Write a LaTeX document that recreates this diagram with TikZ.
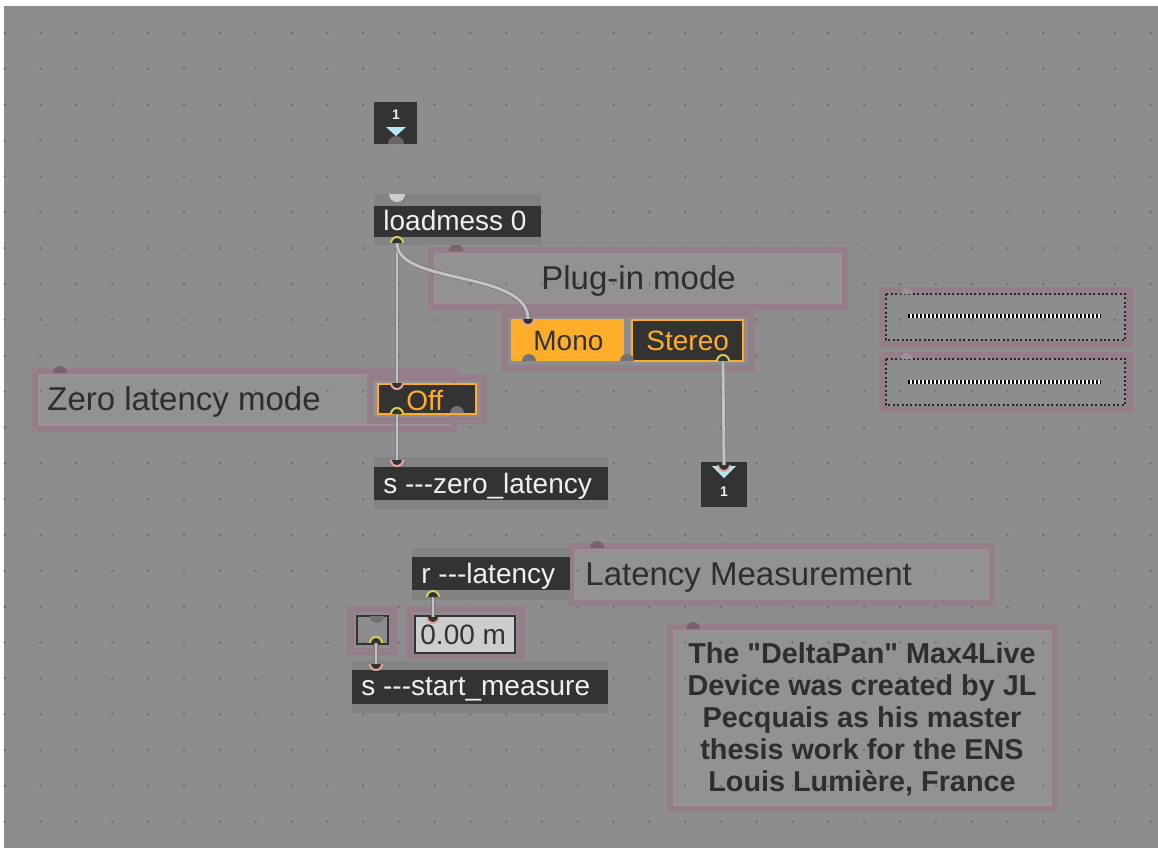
\documentclass[tikz,border=0pt]{standalone}
\usepackage{fontspec}
\setmainfont{Liberation Sans}[Ligatures=TeXOff]
\definecolor{canvas}{HTML}{8D8D8D}
\definecolor{griddot}{HTML}{6E6E6E}
\definecolor{bodydark}{HTML}{333333}
\definecolor{stripgrey}{HTML}{838383}
\definecolor{objtext}{HTML}{F0F0F0}
\definecolor{cmttext}{HTML}{2E2E2E}
\definecolor{cmtframe}{HTML}{937E89}
\definecolor{cmtedge}{HTML}{A08E97}
\definecolor{cmtinlet}{HTML}{76636D}
\definecolor{liveorange}{HTML}{FFAD2A}
\definecolor{cordgrey}{HTML}{C4C4C4}
\definecolor{cordedge}{HTML}{7C7C7C}
\definecolor{inletpink}{HTML}{E8A496}
\definecolor{outletyellow}{HTML}{D0D05A}
\definecolor{iocyan}{HTML}{B4E8EE}
\definecolor{numfill}{HTML}{CDCDCD}
\begin{document}
\begin{tikzpicture}[x=0.5pt,y=-0.5pt,
  cmtband/.style={draw=cmtframe,line width=3pt,fill=white,fill opacity=0.05},
  cmtline/.style={draw=cmtedge,line width=0.6pt},
  uiband/.style={draw=cmtframe,line width=3.5pt},
  objlabel/.style={font=\fontsize{14}{16}\selectfont,text=objtext,inner sep=0pt,anchor=base west},
  cmtlabel/.style={font=\fontsize{16.5}{19}\selectfont,text=cmttext,inner sep=0pt,anchor=base west},
  tablabel/.style={font=\fontsize{14}{16}\selectfont,inner sep=0pt,anchor=base west},
  iolabel/.style={font=\fontsize{7}{8}\selectfont\bfseries,text=objtext,inner sep=0pt},
  patchcord/.style={draw=cordedge,line width=0.4pt,double=cordgrey,double distance=1.4pt},
  inletmark/.style={draw=inletpink,line width=1pt,fill=bodydark},
  outletmark/.style={draw=outletyellow,line width=1pt,fill=bodydark}]
\useasboundingbox (0,0) rectangle (1158,848);
\fill[white] (0,0) rectangle (1158,848);
\fill[canvas] (4,6) rectangle (1158,848);
% grid
\foreach \i in {0,...,32}
  \foreach \j in {0,...,22}
    \fill[griddot] ({5+35.8*\i},{33+35.85*\j}) circle (1.4);
% comments
\draw[cmtband] (431,250) rectangle (845,307);
\draw[cmtline] (435,254) rectangle (841,303);
\draw[cmtband] (35,371) rectangle (454,429);
\draw[cmtline] (39,375) rectangle (450,425);
\draw[cmtband] (571,546) rectangle (992,603);
\draw[cmtline] (575,550) rectangle (988,599);
\draw[cmtband] (670,627) rectangle (1055,809);
\draw[cmtline] (674,631) rectangle (1051,805);
\filldraw[fill=cmtinlet,draw=none] (449,251) arc[start angle=180,end angle=360,radius=7];
\filldraw[fill=cmtinlet,draw=none] (53,373) arc[start angle=180,end angle=360,radius=7];
\filldraw[fill=cmtinlet,draw=none] (590,548) arc[start angle=180,end angle=360,radius=7];
\filldraw[fill=cmtinlet,draw=none] (686,629) arc[start angle=180,end angle=360,radius=7];
% ui frames
\draw[uiband] (504,313) rectangle (751,368);
\draw[uiband] (370,377) rectangle (483,420);
\draw[uiband] (350,609) rectangle (393,651);
\draw[uiband] (409,609) rectangle (521,656);
\draw[uiband] (882,290) rectangle (1129,344);
\draw[uiband] (882,355) rectangle (1129,409);
% right boxes
\draw[black!85,line width=1pt,dash pattern=on 1pt off 1.2pt] (886,294) rectangle (1125,340);
\draw[black!85,line width=1pt,dash pattern=on 1pt off 1.2pt] (886,359) rectangle (1125,405);
\draw[white,line width=2pt] (908,316) -- (1101,316);
\draw[black,line width=2pt,dash pattern=on 1pt off 1pt] (908,316) -- (1101,316);
\draw[white,line width=2pt] (908,382) -- (1101,382);
\draw[black,line width=2pt,dash pattern=on 1pt off 1pt] (908,382) -- (1101,382);
\filldraw[fill=cmtedge,draw=none] (901,294) arc[start angle=180,end angle=360,radius=6];
\filldraw[fill=cmtedge,draw=none] (901,359) arc[start angle=180,end angle=360,radius=6];
% objects
\fill[bodydark] (374,102) rectangle (417,144);
\fill[iocyan] (386,127) -- (406,127) -- (396,136) -- cycle;
\filldraw[fill=black!60,draw=none] (388,144) arc[start angle=180,end angle=360,radius=8];
\fill[stripgrey] (374,194) rectangle (541,245);
\fill[bodydark] (374,206) rectangle (541,237);
\filldraw[fill=numfill,draw=none] (389,194) arc[start angle=180,end angle=0,radius=8];
\fill[liveorange] (511,319) rectangle (624,361);
\filldraw[fill=bodydark,draw=liveorange,line width=1pt] (631.5,319.5) rectangle (742.5,360.5);
\filldraw[fill=black!55,draw=none] (522,361) arc[start angle=180,end angle=360,radius=7];
\filldraw[fill=black!55,draw=none] (620,361) arc[start angle=180,end angle=360,radius=7];
\filldraw[fill=bodydark,draw=liveorange,line width=1pt] (377.5,383.5) rectangle (475.5,413.5);
\filldraw[fill=black!55,draw=none] (450,413) arc[start angle=180,end angle=360,radius=7];
\fill[stripgrey] (374,457) rectangle (608,509);
\fill[bodydark] (374,467) rectangle (608,500);
\fill[bodydark] (701,462) rectangle (747,507);
\fill[iocyan] (712,466) -- (736,466) -- (724,478) -- cycle;
\fill[stripgrey] (412,548) rectangle (570,600);
\fill[bodydark] (412,557) rectangle (570,590);
\draw[bodydark,line width=1pt] (357,616) rectangle (388,644);
\filldraw[fill=black!55,draw=none] (384,616) arc[start angle=0,end angle=180,radius=7];
\filldraw[fill=numfill,draw=bodydark,line width=1pt] (415,616) rectangle (515,653);
\fill[stripgrey] (352,661) rectangle (608,713);
\fill[bodydark] (352,670) rectangle (608,704);
% labels
\node[iolabel] (inlabel) at (396,115) {1};
\node[iolabel] (outlabel) at (724,492) {1};
\node[objlabel] (loadmess) at (383,230) {loadmess 0};
\node[cmtlabel] (plugin) at (541,289) {Plug-in mode};
\node[tablabel,text=bodydark] (mono) at (533,350) {Mono};
\node[tablabel,text=liveorange] (stereo) at (646,350) {Stereo};
\node[cmtlabel] (zerolat) at (47,410) {Zero latency mode};
\node[tablabel,text=liveorange] (off) at (406,410) {Off};
\node[objlabel] (szero) at (383,493) {s ---zero\_latency};
\node[objlabel] (rlat) at (421,583) {r ---latency};
\node[cmtlabel] (latmeas) at (585,585) {Latency Measurement};
\node[tablabel,text=bodydark] (numbox) at (420,644) {0.00 m};
\node[objlabel] (sstart) at (361,695) {s ---start\_measure};
\node[font=\fontsize{14.4}{16}\selectfont\bfseries,text=cmttext,align=center,inner sep=0pt] (credits) at (862,719)
  {The "DeltaPan" Max4Live\\Device was created by JL\\Pecquais as his master\\thesis work for the ENS\\Louis Lumière, France};
% inlets and outlets
\coordinate (loadmessOut) at (397,243);
\coordinate (tabIn) at (528,319);
\coordinate (tabOut) at (723,361);
\coordinate (offIn) at (397,383);
\coordinate (offOut) at (397,414);
\coordinate (szeroIn) at (397,460);
\coordinate (outletIn) at (724,465);
\coordinate (rlatOut) at (433,597);
\coordinate (numIn) at (433,617);
\coordinate (togOut) at (376,643);
\coordinate (sstartIn) at (376,664);
% patch cords
\draw[patchcord] (loadmessOut) -- (offIn);
\draw[patchcord] (loadmessOut) .. controls (397,285) and (528,270) .. (tabIn);
\draw[patchcord] (offOut) -- (szeroIn);
\draw[patchcord] (tabOut) -- (outletIn);
\draw[patchcord] (rlatOut) -- (numIn);
\draw[patchcord] (togOut) -- (sstartIn);
\filldraw[outletmark] (loadmessOut) ++(-6,0) arc[start angle=180,end angle=360,radius=6];
\filldraw[inletmark] (tabIn) ++(6,0) arc[start angle=0,end angle=180,radius=6];
\filldraw[outletmark] (tabOut) ++(-6,0) arc[start angle=180,end angle=360,radius=6];
\filldraw[inletmark] (offIn) ++(6,0) arc[start angle=0,end angle=180,radius=6];
\filldraw[outletmark] (offOut) ++(-6,0) arc[start angle=180,end angle=360,radius=6];
\filldraw[inletmark] (szeroIn) ++(6,0) arc[start angle=0,end angle=180,radius=6];
\filldraw[inletmark] (outletIn) ++(6,0) arc[start angle=0,end angle=180,radius=6];
\filldraw[outletmark] (rlatOut) ++(-6,0) arc[start angle=180,end angle=360,radius=6];
\filldraw[inletmark] (numIn) ++(6,0) arc[start angle=0,end angle=180,radius=6];
\filldraw[outletmark] (togOut) ++(-6,0) arc[start angle=180,end angle=360,radius=6];
\filldraw[inletmark] (sstartIn) ++(6,0) arc[start angle=0,end angle=180,radius=6];
\end{tikzpicture}
\end{document}
